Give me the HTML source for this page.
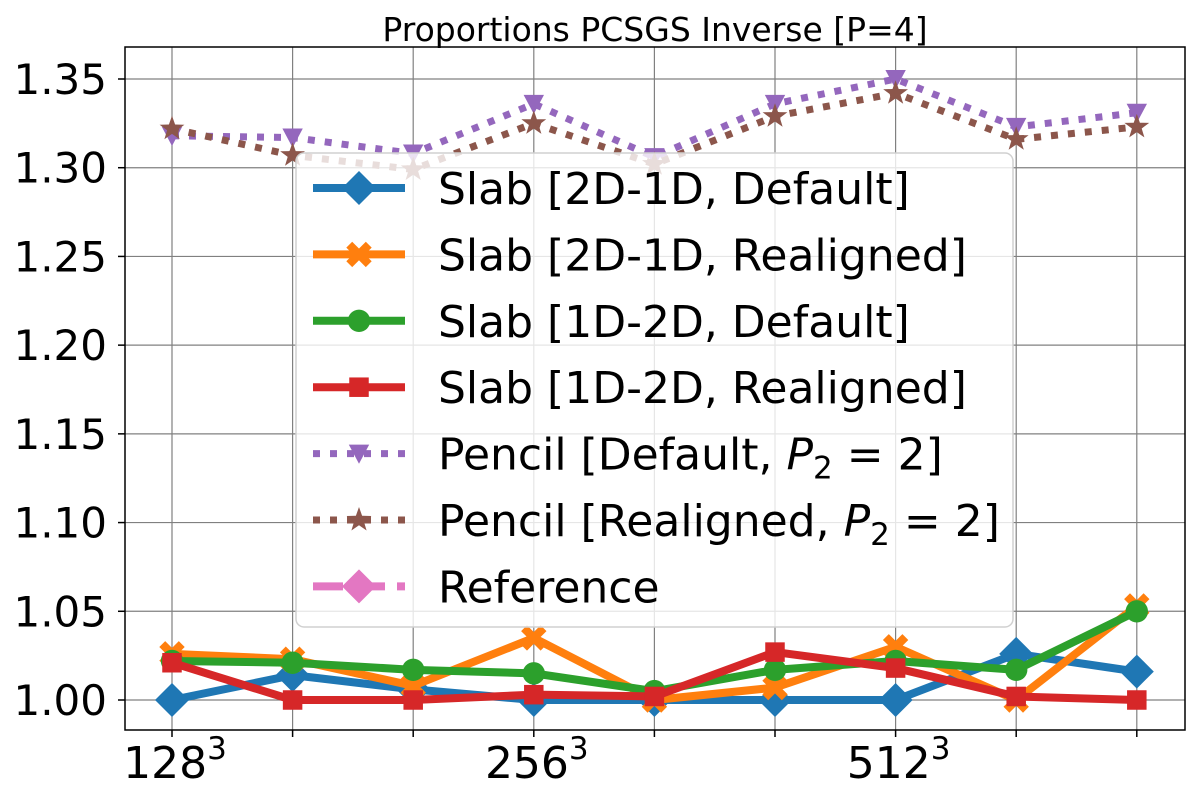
<!DOCTYPE html>
<html><head><meta charset="utf-8"><style>
body{margin:0;background:#fff;}
svg text{font-family:"DejaVu Sans","Liberation Sans",sans-serif;}
</style></head><body>
<svg id="chart" width="1200" height="800" xmlns="http://www.w3.org/2000/svg">
<rect width="1200" height="800" fill="#fff"/>
<text x="655" y="41" font-size="33" text-anchor="middle">Proportions PCSGS Inverse [P=4]</text>
<g id="grid"></g>
<g id="series"></g>
<rect x="125" y="47" width="1060" height="683" fill="none" stroke="#000" stroke-width="1.5"/>
<g id="axes"></g>
<g id="legend"></g>
</svg>
<script>
const categories = ["128^3","","","256^3","","","512^3","",""];
const yTicks = [1.00,1.05,1.10,1.15,1.20,1.25,1.30,1.35];
const yTickLabels = ["1.00","1.05","1.10","1.15","1.20","1.25","1.30","1.35"];
const slab2d1dDefault = [1.000,1.014,1.006,1.000,1.000,1.000,1.000,1.026,1.016];
const slab2d1dRealigned = [1.026,1.023,1.008,1.035,1.000,1.007,1.030,1.000,1.053];
const slab1d2dDefault = [1.022,1.021,1.017,1.015,1.005,1.017,1.022,1.017,1.050];
const slab1d2dRealigned = [1.021,1.000,1.000,1.003,1.002,1.027,1.018,1.002,1.000];
const pencilDefault = [1.318,1.317,1.308,1.336,1.306,1.336,1.350,1.323,1.331];
const pencilRealigned = [1.322,1.307,1.299,1.325,1.302,1.329,1.342,1.316,1.323];

const NS="http://www.w3.org/2000/svg";
const xs = i => 172 + i*120.6;
const ys = v => 700 - (v-1.0)*(621/0.35);
function mk(tag, attrs, parent){const e=document.createElementNS(NS,tag);for(const k in attrs)e.setAttribute(k,attrs[k]);parent.appendChild(e);return e;}
const grid=document.getElementById('grid'), ser=document.getElementById('series'), axes=document.getElementById('axes'), leg=document.getElementById('legend');

categories.forEach((c,i)=>{
  const l=mk('line',{x1:xs(i),x2:xs(i),y1:47,y2:730,stroke:'#808080','stroke-width':1.2},grid);
  
  
  const t=mk('line',{x1:xs(i),x2:xs(i),y1:730,y2:737,stroke:'#000','stroke-width':1.5},axes);
  
  
  if(c){
    const [b,p]=c.split('^');
    const tx=mk('text',{x:xs(i)+3,y:778,'font-size':44,'text-anchor':'middle'},axes);
    
    
    tx.textContent=b;
    const sp=mk('tspan',{dy:-19,'font-size':31},tx);sp.textContent=p;
  }
});
yTicks.forEach((v,i)=>{
  const l=mk('line',{x1:125,x2:1185,y1:ys(v),y2:ys(v),stroke:'#808080','stroke-width':1.2},grid);
  
  
  const t=mk('line',{x1:118,x2:125,y1:ys(v),y2:ys(v),stroke:'#000','stroke-width':1.5},axes);
  
  
  const tx=mk('text',{x:107,y:ys(v)+15,'font-size':42,'text-anchor':'end'},axes);
  
  
  tx.textContent=yTickLabels[i];
});

function marker(type,x,y,color,g,s){
  if(type==='D') return mk('polygon',{points:`${x},${y-s} ${x+s},${y} ${x},${y+s} ${x-s},${y}`,fill:color},g);
  if(type==='s') return mk('rect',{x:x-s*0.75,y:y-s*0.75,width:s*1.5,height:s*1.5,fill:color},g);
  if(type==='o') return mk('circle',{cx:x,cy:y,r:s*0.8,fill:color},g);
  if(type==='X'){const a=s*0.75,w=s*0.32;return mk('path',{d:`M${x-a},${y-a}L${x+a},${y+a}M${x+a},${y-a}L${x-a},${y+a}`,stroke:color,'stroke-width':w*2,fill:'none'},g);}
  if(type==='v') return mk('polygon',{points:`${x-s*0.85},${y-s*0.75} ${x+s*0.85},${y-s*0.75} ${x},${y+s*0.85}`,fill:color},g);
  if(type==='*'){let p=[];for(let k=0;k<10;k++){const r=k%2?s*0.4:s;const a=-Math.PI/2+k*Math.PI/5;p.push((x+r*Math.cos(a)).toFixed(1)+','+(y+r*Math.sin(a)).toFixed(1));}return mk('polygon',{points:p.join(' '),fill:color},g);}
}
const seriesDefs=[
 {name:'slab-2d1d-default',data:slab2d1dDefault,color:'#1f77b4',m:'D',s:17,dash:null,w:8},
 {name:'slab-2d1d-realigned',data:slab2d1dRealigned,color:'#ff7f0e',m:'X',s:13,dash:null,w:8},
 {name:'slab-1d2d-default',data:slab1d2dDefault,color:'#2ca02c',m:'o',s:14,dash:null,w:8},
 {name:'slab-1d2d-realigned',data:slab1d2dRealigned,color:'#d62728',m:'s',s:13,dash:null,w:8},
 {name:'pencil-default',data:pencilDefault,color:'#9467bd',m:'v',s:12,dash:'7,10',w:7},
 {name:'pencil-realigned',data:pencilRealigned,color:'#8c564b',m:'*',s:13,dash:'7,10',w:7}
];
seriesDefs.forEach(sd=>{
  const g=mk('g',{},ser);
  
  
  const pts=sd.data.map((v,i)=>xs(i)+','+ys(v)).join(' ');
  const a={points:pts,fill:'none',stroke:sd.color,'stroke-width':sd.w,'stroke-linejoin':'round'};
  if(sd.dash)a['stroke-dasharray']=sd.dash;
  const pl=mk('polyline',a,g);
  
  
  sd.data.forEach((v,i)=>{
    const mm=marker(sd.m,xs(i),ys(v),sd.color,g,sd.s);
    
    
  });
});

// legend
const lb=mk('rect',{x:296,y:153,width:717,height:474,rx:8,fill:'#fff','fill-opacity':0.8,stroke:'#d0d0d0','stroke-width':1.5},leg);


const legendLabels=['Slab [2D-1D, Default]','Slab [2D-1D, Realigned]','Slab [1D-2D, Default]','Slab [1D-2D, Realigned]','Pencil [Default, |','Pencil [Realigned, |','Reference'];
const legDefs=seriesDefs.concat([{name:'reference',color:'#e377c2',m:'D',s:17,dash:'30,12',w:8}]);
legDefs.forEach((sd,i)=>{
  const y=188+i*66.4;
  const g=mk('g',{},leg);
  
  
  const a={x1:313,x2:405,y1:y,y2:y,stroke:sd.color,'stroke-width':sd.w};
  if(sd.dash)a['stroke-dasharray']=sd.dash;
  mk('line',a,g);
  marker(sd.m,359,y,sd.color,g,sd.s);
  const t=mk('text',{x:438,y:y+16,'font-size':44},g);
  const lab=legendLabels[i];
  if(lab.endsWith('|')){
    t.appendChild(document.createTextNode(lab.slice(0,-1)));
    const p=mk('tspan',{'font-style':'italic'},t);p.textContent='P';
    const s=mk('tspan',{dy:9,'font-size':31},t);s.textContent='2';
    const r=mk('tspan',{dy:-9},t);r.textContent=' = 2]';
  } else t.textContent=lab;
});
</script>
</body></html>
